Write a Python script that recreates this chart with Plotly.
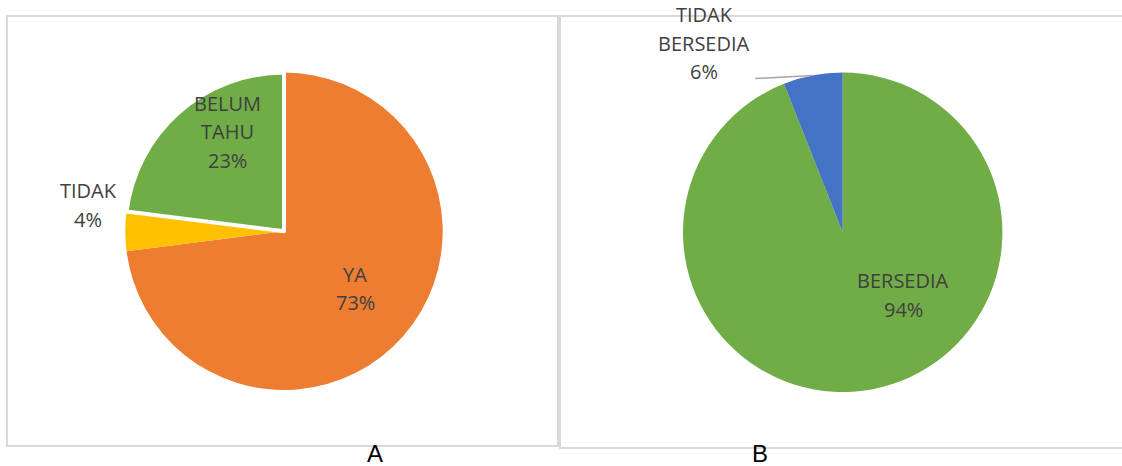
import math
import plotly.graph_objects as go

# Survey responses
labels_a = ["YA", "TIDAK", "BELUM TAHU"]
values_a = [73, 4, 23]
colors_a = ["#ED7D31", "#FFC000", "#70AD47"]

labels_b = ["BERSEDIA", "TIDAK BERSEDIA"]
values_b = [94, 6]
colors_b = ["#70AD47", "#4472C4"]

panel_titles = ["A", "B"]

W, H = 1122, 466


def px_x(x):
    return x / W


def px_y(y):
    return 1 - y / H


def domain(cx, cy, r):
    return dict(x=[px_x(cx - r), px_x(cx + r)], y=[px_y(cy + r), px_y(cy - r)])


# pie geometry in pixels: centre x, centre y, radius
geo_a = (284.0, 231.3, 158.7)
geo_b = (842.7, 232.3, 159.7)

fig = go.Figure()
fig.add_trace(go.Pie(
    labels=labels_a, values=values_a, sort=False, direction="clockwise",
    rotation=0, textinfo="none", hoverinfo="label+percent",
    marker=dict(colors=colors_a, line=dict(color="white", width=[0, 0, 4])),
    domain=domain(*geo_a), showlegend=False,
))
fig.add_trace(go.Pie(
    labels=labels_b, values=values_b, sort=False, direction="clockwise",
    rotation=0, textinfo="none", hoverinfo="label+percent",
    marker=dict(colors=colors_b, line=dict(color="white", width=0)),
    domain=domain(*geo_b), showlegend=False,
))

# label anchors: (centre x, first line centre y) in pixels
anchors_a = {"YA": (355, 274), "TIDAK": (88, 190.5), "BELUM TAHU": (227, 103.3)}
anchors_b = {"BERSEDIA": (903, 280.5), "TIDAK BERSEDIA": (704, 14.5)}
line_pitch = 28.6

annotations = []


def add_labels(labels, values, anchors):
    total = sum(values)
    for lab, val in zip(labels, values):
        lines = lab.split(" ") + [f"{round(val / total * 100)}%"]
        x0, y0 = anchors[lab]
        for i, t in enumerate(lines):
            annotations.append(dict(
                x=px_x(x0), y=px_y(y0 + i * line_pitch), xref="paper", yref="paper",
                text=t, showarrow=False, xanchor="center", yanchor="middle",
                font=dict(family="Open Sans", size=20, color="#404040"),
            ))


add_labels(labels_a, values_a, anchors_a)
add_labels(labels_b, values_b, anchors_b)

# panel captions
for t, x in zip(panel_titles, [374.5, 759.5]):
    annotations.append(dict(
        x=px_x(x), y=px_y(453), xref="paper", yref="paper", text=t,
        showarrow=False, xanchor="center", yanchor="middle",
        font=dict(family="Liberation Sans, Arial", size=24, color="#000000"),
    ))

shapes = [
    dict(type="rect", xref="paper", yref="paper",
         x0=px_x(7), x1=px_x(558), y0=px_y(446), y1=px_y(16),
         line=dict(color="#D9D9D9", width=2), layer="below"),
    dict(type="rect", xref="paper", yref="paper",
         x0=px_x(560), x1=px_x(1130), y0=px_y(448), y1=px_y(16),
         line=dict(color="#D9D9D9", width=2), layer="below"),
]

# leader line for the small slice of chart B, ending at its mid-angle on the rim
cx, cy, r = geo_b
mid_frac = (values_b[0] + values_b[1] / 2) / sum(values_b)
ang = 2 * math.pi * mid_frac
ex, ey = cx + r * math.sin(ang), cy - r * math.cos(ang)
shapes.append(dict(type="line", xref="paper", yref="paper",
                   x0=px_x(755), y0=px_y(78.5), x1=px_x(ex), y1=px_y(ey),
                   line=dict(color="#A6A6A6", width=1.5)))

fig.update_layout(
    width=W, height=H, margin=dict(l=0, r=0, t=0, b=0),
    paper_bgcolor="white", plot_bgcolor="white",
    annotations=annotations, shapes=shapes,
)

fig.write_html("out.html")
